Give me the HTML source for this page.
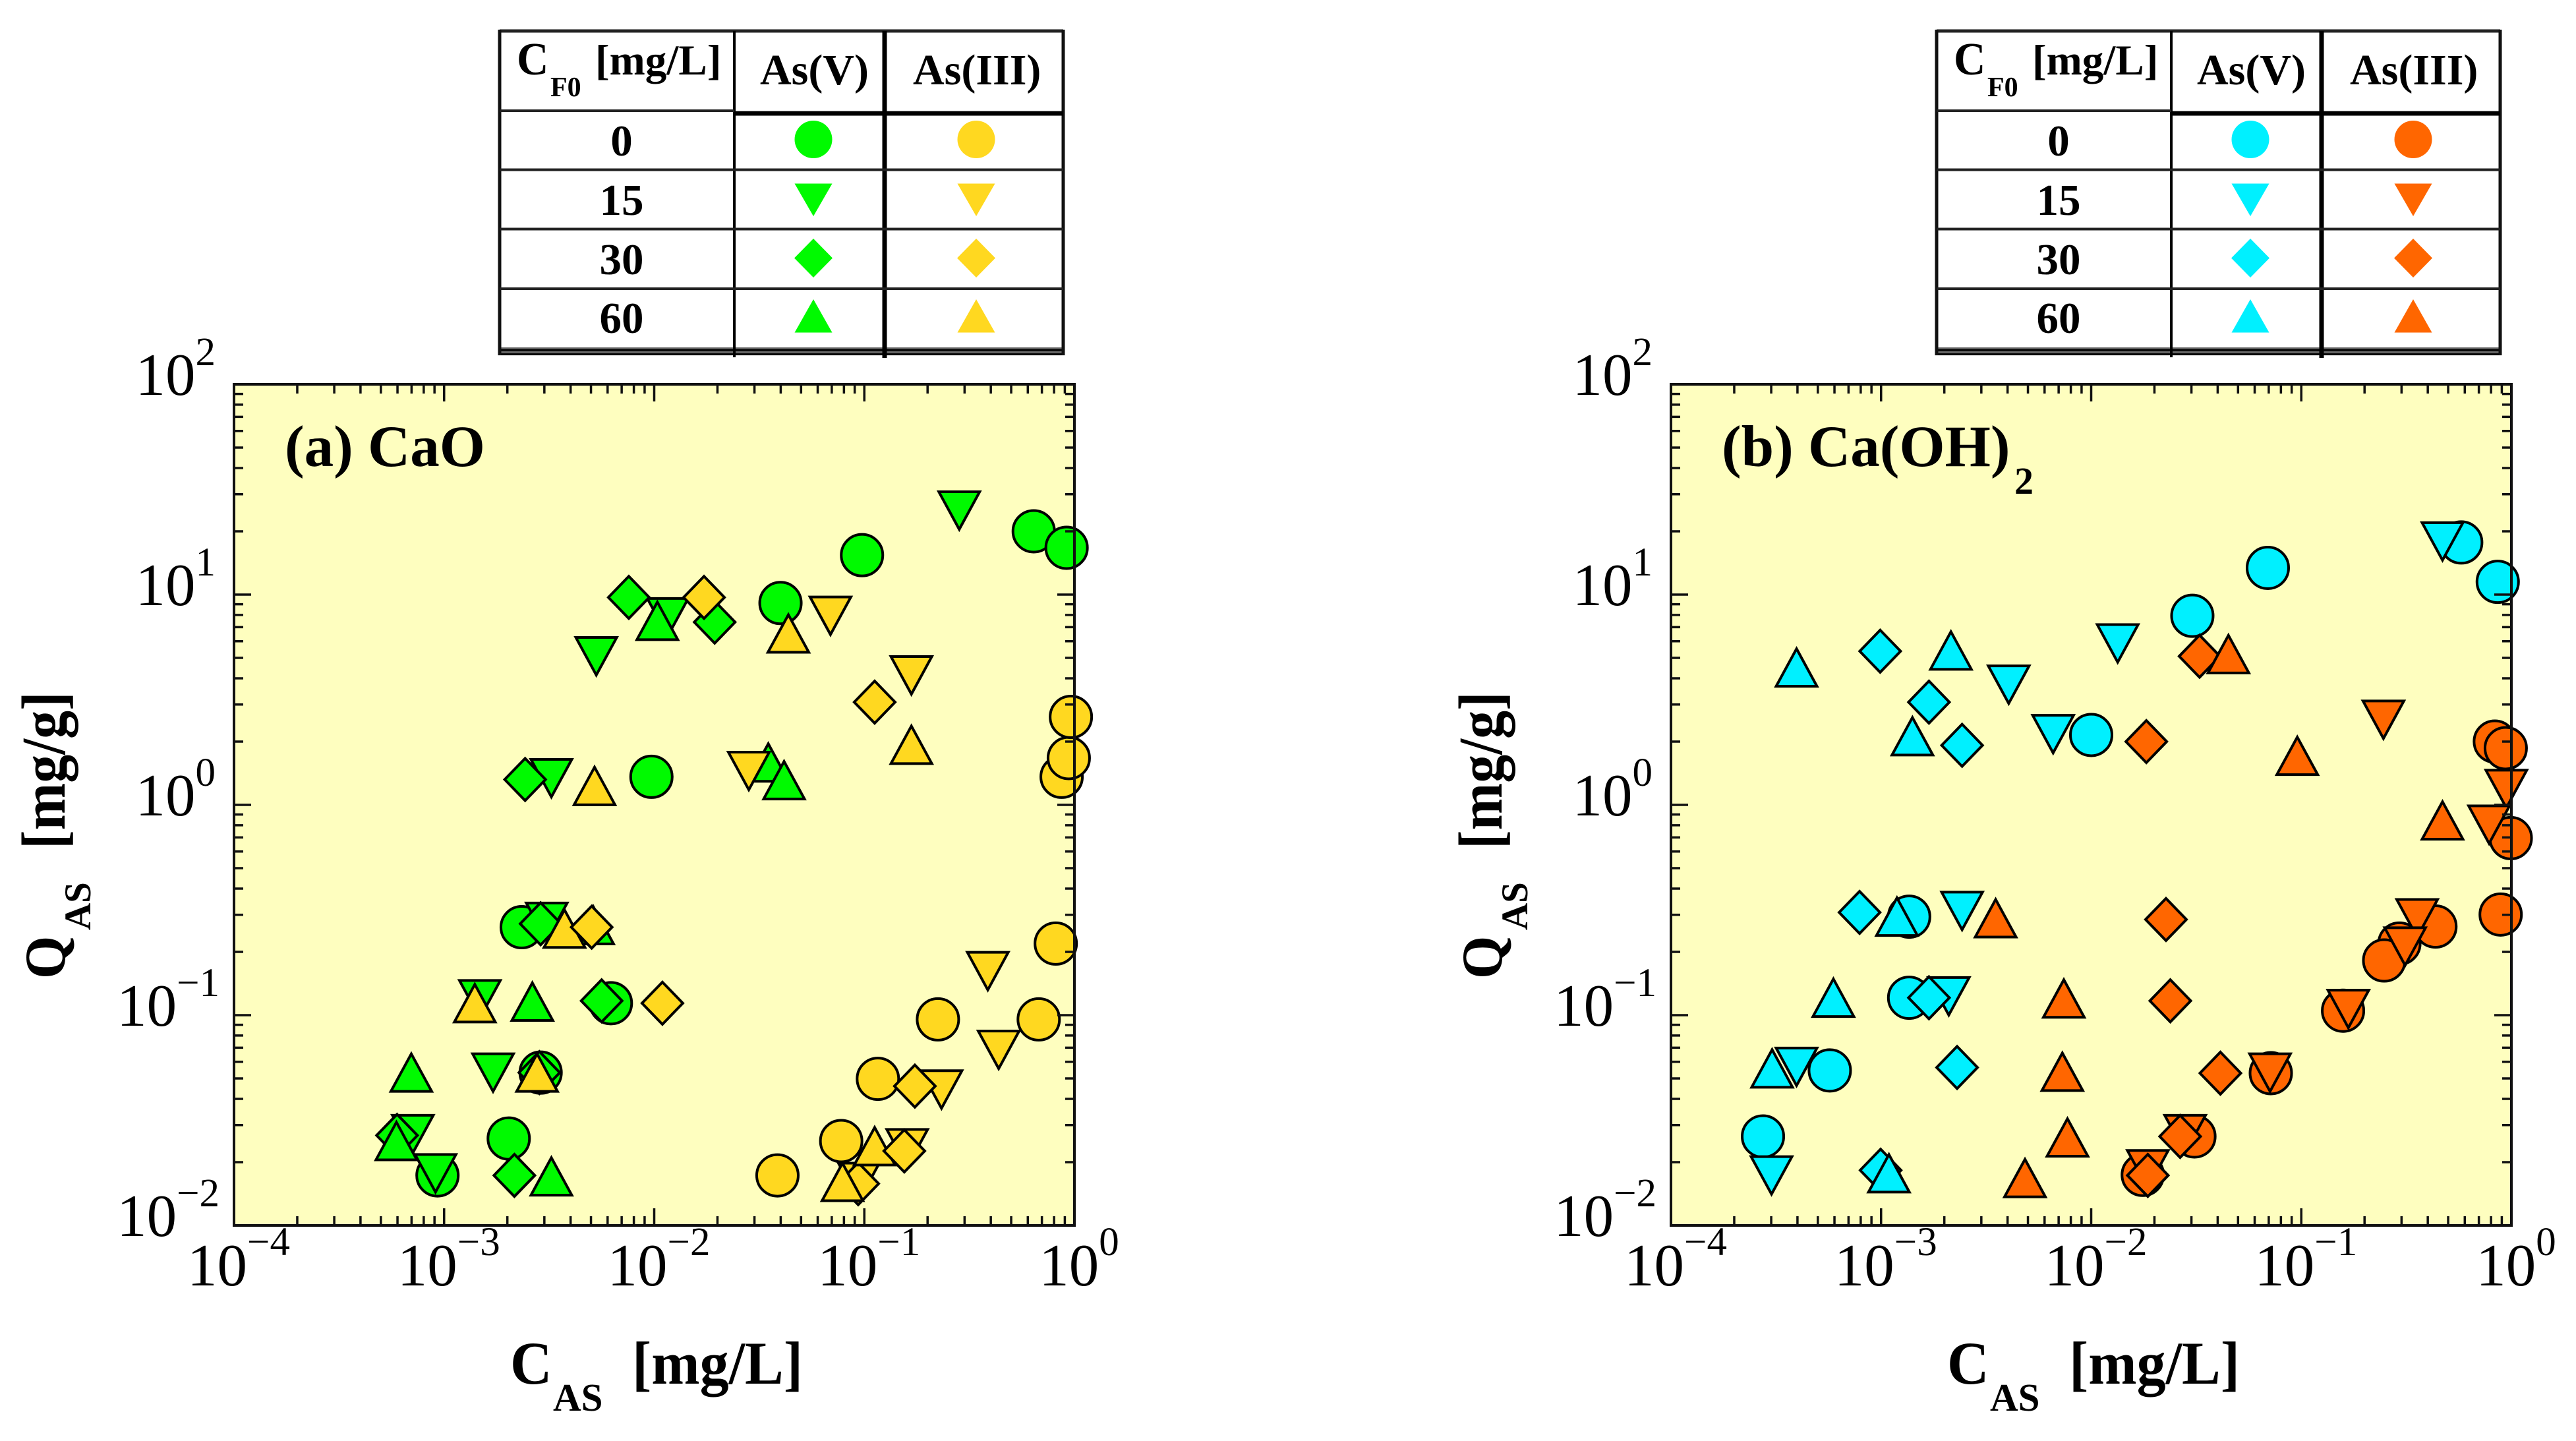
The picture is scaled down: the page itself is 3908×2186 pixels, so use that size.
<!DOCTYPE html>
<html lang="en">
<head>
<meta charset="utf-8">
<title>Arsenic adsorption isotherms on CaO and Ca(OH)2</title>
<style>
html,body{margin:0;padding:0;background:#fff;width:3908px;height:2186px;overflow:hidden}
svg{display:block}
text{font-family:"Liberation Serif",serif;fill:#000}
.b{font-weight:bold}
.t{font-size:66px;font-weight:bold}
.r{font-size:67px;font-weight:bold;text-anchor:middle}
</style>
</head>
<body>
<svg id="fig" xmlns="http://www.w3.org/2000/svg" width="3908" height="2186" viewBox="0 0 3908 2186">
  <rect width="3908" height="2186" fill="#fff"/>

  <g id="panelA">
    <rect x="355" y="583" width="1275" height="1276" fill="#fefebf"/>
    <g id="marksA"></g>
    <g id="axesA"></g>
    <text class="b" x="432" y="707" font-size="89">(a) CaO</text>
    <g>
      <text class="b" transform="translate(774,2099) scale(1,1.05)" font-size="88">C</text>
      <text class="b" x="839" y="2140" font-size="59">AS</text>
      <text class="b" transform="translate(959,2099) scale(1,1.05)" font-size="88">[mg/L]</text>
    </g>
    <g>
      <text class="b" transform="translate(98,1485) rotate(-90) scale(1,1.05)" font-size="84">Q</text>
      <text class="b" transform="translate(137,1411) rotate(-90)" font-size="57">AS</text>
      <text class="b" transform="translate(98,1288) rotate(-90) scale(1,1.1)" font-size="86">[mg/g]</text>
    </g>
  </g>

  <g id="panelB">
    <rect x="2535" y="583" width="1275" height="1276" fill="#fefebf"/>
    <g id="marksB"></g>
    <g id="axesB"></g>
    <g>
      <text class="b" x="2612" y="707" font-size="89">(b) Ca(OH)</text>
      <text class="b" x="3056" y="749" font-size="58">2</text>
    </g>
    <g>
      <text class="b" transform="translate(2954,2099) scale(1,1.05)" font-size="88">C</text>
      <text class="b" x="3019" y="2140" font-size="59">AS</text>
      <text class="b" transform="translate(3139,2099) scale(1,1.05)" font-size="88">[mg/L]</text>
    </g>
    <g>
      <text class="b" transform="translate(2278,1485) rotate(-90) scale(1,1.05)" font-size="84">Q</text>
      <text class="b" transform="translate(2317,1411) rotate(-90)" font-size="57">AS</text>
      <text class="b" transform="translate(2278,1288) rotate(-90) scale(1,1.1)" font-size="86">[mg/g]</text>
    </g>
  </g>

  <g>
    <g stroke="#000" fill="none">
      <path d="M758 47H1613" stroke-width="5" stroke="#222"/>
      <rect x="756" y="527" width="859" height="12" fill="#666" stroke="none"/>
      <path d="M758 531H1613M758 537.500H1613" stroke-width="3"/>
      <path d="M758 45V539M1613 45V539" stroke-width="5" stroke="#111"/>
      <path d="M1114 47V542" stroke-width="4"/>
      <path d="M1342 47V543" stroke-width="7"/>
      <path d="M758 168H1114" stroke-width="4" stroke="#222"/>
      <path d="M1116 172H1613" stroke-width="7"/>
      <path d="M758 257.500H1613M758 347.500H1613M758 438H1613" stroke-width="4" stroke="#222"/>
    </g>
    <text class="b" transform="translate(784,113) scale(1,1.05)" font-size="67">C</text>
    <text class="b" x="835" y="146" font-size="42">F0</text>
    <text class="b" x="903" y="113" font-size="65">[mg/L]</text>
    <text class="t" x="1153" y="128">As(V)</text>
    <text class="t" x="1385" y="128">As(III)</text>
    <text class="r" x="943" y="236">0</text>
    <text class="r" x="943" y="326">15</text>
    <text class="r" x="943" y="416">30</text>
    <text class="r" x="943" y="505">60</text>
    <circle cx="1234" cy="211.500" r="28.500" fill="#00fa00"/>
    <polygon points="1205.500,278.500 1262.500,278.500 1234,328" fill="#00fa00"/>
    <polygon points="1234,362 1263,391.500 1234,421 1205,391.500" fill="#00fa00"/>
    <polygon points="1234,454 1262.500,504.500 1205.500,504.500" fill="#00fa00"/>
    <circle cx="1481" cy="211.500" r="28.500" fill="#ffd820"/>
    <polygon points="1452.500,278.500 1509.500,278.500 1481,328" fill="#ffd820"/>
    <polygon points="1481,362 1510,391.500 1481,421 1452,391.500" fill="#ffd820"/>
    <polygon points="1481,454 1509.500,504.500 1452.500,504.500" fill="#ffd820"/>
  </g>

  <g transform="translate(2180,0)">
    <g stroke="#000" fill="none">
      <path d="M758 47H1613" stroke-width="5" stroke="#222"/>
      <rect x="756" y="527" width="859" height="12" fill="#666" stroke="none"/>
      <path d="M758 531H1613M758 537.500H1613" stroke-width="3"/>
      <path d="M758 45V539M1613 45V539" stroke-width="5" stroke="#111"/>
      <path d="M1114 47V542" stroke-width="4"/>
      <path d="M1342 47V543" stroke-width="7"/>
      <path d="M758 168H1114" stroke-width="4" stroke="#222"/>
      <path d="M1116 172H1613" stroke-width="7"/>
      <path d="M758 257.500H1613M758 347.500H1613M758 438H1613" stroke-width="4" stroke="#222"/>
    </g>
    <text class="b" transform="translate(784,113) scale(1,1.05)" font-size="67">C</text>
    <text class="b" x="835" y="146" font-size="42">F0</text>
    <text class="b" x="903" y="113" font-size="65">[mg/L]</text>
    <text class="t" x="1153" y="128">As(V)</text>
    <text class="t" x="1385" y="128">As(III)</text>
    <text class="r" x="943" y="236">0</text>
    <text class="r" x="943" y="326">15</text>
    <text class="r" x="943" y="416">30</text>
    <text class="r" x="943" y="505">60</text>
    <circle cx="1234" cy="211.500" r="28.500" fill="#00f0ff"/>
    <polygon points="1205.500,278.500 1262.500,278.500 1234,328" fill="#00f0ff"/>
    <polygon points="1234,362 1263,391.500 1234,421 1205,391.500" fill="#00f0ff"/>
    <polygon points="1234,454 1262.500,504.500 1205.500,504.500" fill="#00f0ff"/>
    <circle cx="1481" cy="211.500" r="28.500" fill="#ff6600"/>
    <polygon points="1452.500,278.500 1509.500,278.500 1481,328" fill="#ff6600"/>
    <polygon points="1481,362 1510,391.500 1481,421 1452,391.500" fill="#ff6600"/>
    <polygon points="1481,454 1509.500,504.500 1452.500,504.500" fill="#ff6600"/>
  </g>
</svg>

<script>
// Axis data
const xTickExponents = [-4, -3, -2, -1, 0];
const yTickExponents = [-2, -1, 0, 1, 2];
const minorMultipliers = [2, 3, 4, 5, 6, 7, 8, 9];

// Panel (a) CaO, As(V)
const caoV0X = [0.00093, 0.00203, 0.00234, 0.00288, 0.00622, 0.0097, 0.0399, 0.0975, 0.64, 0.918];
const caoV0Y = [0.0173, 0.0259, 0.262, 0.0533, 0.114, 1.36, 9.12, 15.4, 20, 16.7];
const caoV15X = [0.283, 0.0053, 0.0116, 0.00324, 0.00308, 0.00148, 0.00171, 0.00071, 0.00091];
const caoV15Y = [25.1, 5.09, 7.8, 1.34, 0.278, 0.119, 0.0533, 0.0272, 0.0177];
const caoV30X = [0.00757, 0.0194, 0.00243, 0.00288, 0.00562, 0.00284, 0.000597, 0.00216];
const caoV30Y = [9.7, 7.4, 1.32, 0.272, 0.117, 0.0533, 0.0268, 0.0173];
const caoV60X = [0.01035, 0.0349, 0.0415, 0.00512, 0.00263, 0.000698, 0.000593, 0.00324];
const caoV60Y = [7.5, 1.59, 1.31, 0.268, 0.116, 0.0533, 0.0252, 0.0171];

// Panel (a) CaO, As(III)
const caoIII0X = [0.0386, 0.0776, 0.116, 0.224, 0.676, 0.815, 0.869, 0.94, 0.962];
const caoIII0Y = [0.0173, 0.0252, 0.0498, 0.0955, 0.0955, 0.219, 1.36, 1.67, 2.62];
const caoIII15X = [0.069, 0.1675, 0.0282, 0.387, 0.436, 0.233, 0.16, 0.0942];
const caoIII15Y = [7.93, 4.13, 1.45, 0.162, 0.0684, 0.0443, 0.0233, 0.0161];
const caoIII30X = [0.01726, 0.112, 0.00504, 0.01094, 0.174, 0.155, 0.0935];
const caoIII30Y = [9.7, 3.08, 0.262, 0.114, 0.046, 0.0226, 0.0158];
const caoIII60X = [0.0435, 0.1675, 0.0052, 0.00374, 0.0014, 0.00277, 0.112, 0.0787];
const caoIII60Y = [6.53, 1.93, 1.23, 0.258, 0.114, 0.0533, 0.0238, 0.0161];

// Panel (b) Ca(OH)2, As(V)
const hydV0X = [0.000274, 0.00057, 0.00136, 0.00136, 0.01, 0.0303, 0.0693, 0.577, 0.861];
const hydV0Y = [0.0265, 0.0546, 0.121, 0.294, 2.15, 7.93, 13.4, 17.7, 11.5];
const hydV15X = [0.47, 0.01337, 0.00405, 0.00659, 0.0021, 0.00243, 0.000396, 0.000301];
const hydV15Y = [17.9, 5.86, 3.73, 2.17, 0.123, 0.313, 0.0568, 0.0173];
const hydV30X = [0.00099, 0.00169, 0.00243, 0.00079, 0.00169, 0.0023, 0.000995];
const hydV30Y = [5.38, 3.08, 1.92, 0.308, 0.121, 0.0564, 0.0183];
const hydV60X = [0.000396, 0.00215, 0.00141, 0.00119, 0.000593, 0.000303, 0.00109];
const hydV60Y = [4.5, 5.42, 2.12, 0.294, 0.121, 0.0558, 0.0177];

// Panel (b) Ca(OH)2, As(III)
const hydIII0X = [0.834, 0.94, 0.993, 0.889, 0.435, 0.293, 0.248, 0.158, 0.0716, 0.031, 0.0176];
const hydIII0Y = [2.0, 1.86, 0.695, 0.301, 0.264, 0.219, 0.182, 0.105, 0.053, 0.0265, 0.0174];
const hydIII15X = [0.246, 0.946, 0.783, 0.356, 0.312, 0.1675, 0.071, 0.028, 0.0186];
const hydIII15Y = [2.54, 1.19, 0.805, 0.289, 0.212, 0.107, 0.0533, 0.0272, 0.0185];
const hydIII30X = [0.0328, 0.0183, 0.0227, 0.0238, 0.0412, 0.0265, 0.0186];
const hydIII30Y = [5.09, 2.0, 0.285, 0.117, 0.053, 0.0265, 0.0173];
const hydIII60X = [0.045, 0.0957, 0.47, 0.00351, 0.00741, 0.00729, 0.00771, 0.00484];
const hydIII60Y = [5.21, 1.71, 0.843, 0.289, 0.12, 0.0538, 0.0262, 0.0168];

const SVG_NS = 'http://www.w3.org/2000/svg';

function makeEl(tag, attrs) {
  const el = document.createElementNS(SVG_NS, tag);
  for (const k in attrs) el.setAttribute(k, attrs[k]);
  return el;
}

function makeXScale(left, right) {
  const lo = xTickExponents[0];
  const hi = xTickExponents[xTickExponents.length - 1];
  return function (v) { return left + (Math.log10(v) - lo) / (hi - lo) * (right - left); };
}

function makeYScale(top, bottom) {
  const lo = yTickExponents[0];
  const hi = yTickExponents[yTickExponents.length - 1];
  return function (v) { return bottom - (Math.log10(v) - lo) / (hi - lo) * (bottom - top); };
}

function drawMarker(parent, kind, px, py, fill, seriesName) {
  const hw = 31, hh = 28.5;
  let el;
  const style = { fill: fill, stroke: '#000', 'stroke-width': 4, 'stroke-linejoin': 'miter', 'stroke-miterlimit': 4 };
  if (kind === 'circle') {
    el = makeEl('circle', Object.assign({ cx: px, cy: py, r: 31.5 }, style));
  } else if (kind === 'down') {
    el = makeEl('polygon', Object.assign({ points: (px - hw) + ',' + (py - hh) + ' ' + (px + hw) + ',' + (py - hh) + ' ' + px + ',' + (py + hh) }, style));
  } else if (kind === 'diamond') {
    el = makeEl('polygon', Object.assign({ points: px + ',' + (py - 32) + ' ' + (px + 31) + ',' + py + ' ' + px + ',' + (py + 32) + ' ' + (px - 31) + ',' + py }, style));
  } else {
    el = makeEl('polygon', Object.assign({ points: px + ',' + (py - hh) + ' ' + (px + hw) + ',' + (py + hh) + ' ' + (px - hw) + ',' + (py + hh) }, style));
  }
  
  
  parent.appendChild(el);
}

function drawSeries(parent, xs, ys, kind, fill, seriesName, xScale, yScale) {
  xs.forEach(function (v, i) {
    drawMarker(parent, kind, xScale(v), yScale(ys[i]), fill, seriesName);
  });
}

function tickLabel(parent, x, y, exponent, anchor, supShift, name) {
  const t = makeEl('text', { x: x, y: y, 'font-size': 91, 'text-anchor': anchor });
  
  
  t.appendChild(document.createTextNode('10'));
  const s = makeEl('tspan', { dy: supShift, 'font-size': 61 });
  s.textContent = String(exponent).replace('-', '\u2212');
  t.appendChild(s);
  parent.appendChild(t);
}

function drawAxes(parent, left, right, top, bottom, xScale, yScale) {
  const frame = makeEl('rect', { x: left, y: top, width: right - left, height: bottom - top, fill: 'none', stroke: '#111', 'stroke-width': 4 });
  
  
  parent.appendChild(frame);

  const major = 26, minor = 14;
  let d = '';
  xTickExponents.forEach(function (e, i) {
    const base = Math.pow(10, e);
    const px = xScale(base);
    d += 'M' + px + ' ' + bottom + 'v' + (-major) + 'M' + px + ' ' + top + 'v' + major;
    if (i < xTickExponents.length - 1) {
      minorMultipliers.forEach(function (m) {
        const mx = xScale(base * m);
        d += 'M' + mx + ' ' + bottom + 'v' + (-minor) + 'M' + mx + ' ' + top + 'v' + minor;
      });
    }
  });
  yTickExponents.forEach(function (e, i) {
    const base = Math.pow(10, e);
    const py = yScale(base);
    d += 'M' + left + ' ' + py + 'h' + major + 'M' + right + ' ' + py + 'h' + (-major);
    if (i < yTickExponents.length - 1) {
      minorMultipliers.forEach(function (m) {
        const my = yScale(base * m);
        d += 'M' + left + ' ' + my + 'h' + minor + 'M' + right + ' ' + my + 'h' + (-minor);
      });
    }
  });
  const ticks = makeEl('path', { d: d, fill: 'none', stroke: '#111', 'stroke-width': 3.5 });
  
  
  parent.appendChild(ticks);

  xTickExponents.forEach(function (e) {
    tickLabel(parent, xScale(Math.pow(10, e)) + 7, 1950, e, 'middle', -46, 'x-tick-label');
  });
  yTickExponents.forEach(function (e) {
    tickLabel(parent, left - (e < 0 ? 22 : 28), yScale(Math.pow(10, e)) + 16, e, 'end', -45, 'y-tick-label');
  });
}

const GREEN = '#00fa00', YELLOW = '#ffd820', CYAN = '#00f0ff', ORANGE = '#ff6600';

(function () {
  const ax = makeXScale(355, 1630), ay = makeYScale(583, 1859);
  const ma = document.getElementById('marksA');
  drawSeries(ma, caoV0X, caoV0Y, 'circle', GREEN, 'cao-asv-0', ax, ay);
  drawSeries(ma, caoV15X, caoV15Y, 'down', GREEN, 'cao-asv-15', ax, ay);
  drawSeries(ma, caoV30X, caoV30Y, 'diamond', GREEN, 'cao-asv-30', ax, ay);
  drawSeries(ma, caoV60X, caoV60Y, 'up', GREEN, 'cao-asv-60', ax, ay);
  drawSeries(ma, caoIII0X, caoIII0Y, 'circle', YELLOW, 'cao-asiii-0', ax, ay);
  drawSeries(ma, caoIII15X, caoIII15Y, 'down', YELLOW, 'cao-asiii-15', ax, ay);
  drawSeries(ma, caoIII30X.slice(6), caoIII30Y.slice(6), 'diamond', YELLOW, 'cao-asiii-30', ax, ay);
  drawSeries(ma, caoIII60X, caoIII60Y, 'up', YELLOW, 'cao-asiii-60', ax, ay);
  drawSeries(ma, caoIII30X.slice(0, 6), caoIII30Y.slice(0, 6), 'diamond', YELLOW, 'cao-asiii-30', ax, ay);
  drawAxes(document.getElementById('axesA'), 355, 1630, 583, 1859, ax, ay);

  const bx = makeXScale(2535, 3810), by = makeYScale(583, 1859);
  const mb = document.getElementById('marksB');
  drawSeries(mb, hydV0X, hydV0Y, 'circle', CYAN, 'caoh2-asv-0', bx, by);
  drawSeries(mb, hydV15X, hydV15Y, 'down', CYAN, 'caoh2-asv-15', bx, by);
  drawSeries(mb, hydV30X, hydV30Y, 'diamond', CYAN, 'caoh2-asv-30', bx, by);
  drawSeries(mb, hydV60X, hydV60Y, 'up', CYAN, 'caoh2-asv-60', bx, by);
  drawSeries(mb, hydIII0X, hydIII0Y, 'circle', ORANGE, 'caoh2-asiii-0', bx, by);
  drawSeries(mb, hydIII15X, hydIII15Y, 'down', ORANGE, 'caoh2-asiii-15', bx, by);
  drawSeries(mb, hydIII30X, hydIII30Y, 'diamond', ORANGE, 'caoh2-asiii-30', bx, by);
  drawSeries(mb, hydIII60X, hydIII60Y, 'up', ORANGE, 'caoh2-asiii-60', bx, by);
  drawAxes(document.getElementById('axesB'), 2535, 3810, 583, 1859, bx, by);
})();
</script>
</body>
</html>
